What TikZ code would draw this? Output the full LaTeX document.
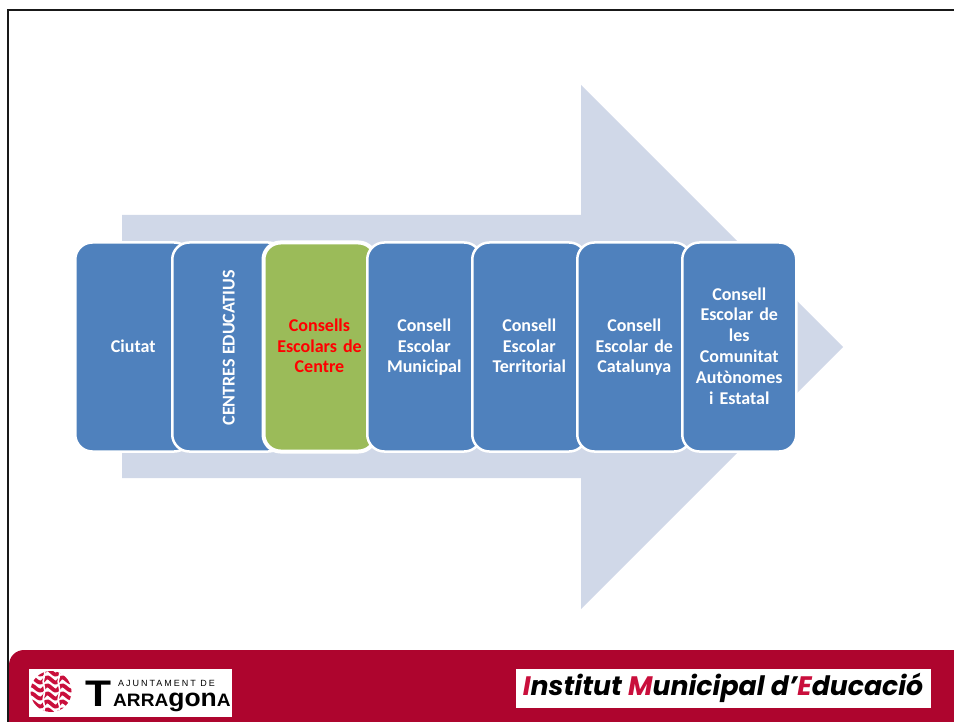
\documentclass[tikz,border=0pt]{standalone}
\usepackage{fontspec}
\setmainfont{Carlito}
\newfontfamily\logofont{Liberation Sans}
\newfontfamily\logospaced[LetterSpace=22]{Liberation Sans}
\newfontfamily\instfont{Poppins}
\usepackage{tikz}
\usetikzlibrary{positioning}
\definecolor{BoxBlue}{HTML}{4F81BD}
\definecolor{BoxGreen}{HTML}{9BBB59}
\definecolor{ArrowGray}{HTML}{D0D8E8}
\definecolor{FootRed}{HTML}{AE052E}
\definecolor{LogoRed}{HTML}{C90F3C}
\tikzset{
  % Box styles
  levelbox/.style={rectangle, rounded corners=17pt, draw=white, line width=2.5pt, fill=BoxBlue, text=white, minimum height=209pt, font=\fontsize{18}{20.8}\selectfont\bfseries, align=center, inner sep=1pt, anchor=west, execute at begin node={\rule{0pt}{16.6pt}}, execute at end node=\strut},
  greenbox/.style={levelbox, fill=BoxGreen, text=red, line width=4pt},
  % Logo styles
  logobox/.style={rectangle, fill=white, inner sep=0pt, anchor=north west},
  wavy/.style={LogoRed, line width=3.8pt},
  wavycut/.style={white, line width=1.6pt}
}
\begin{document}
\begin{tikzpicture}[x=1pt, y=-1pt]
  \useasboundingbox (0,0) rectangle (954,722);

  % Frame
  \draw[line width=2.5pt, black!90] (8,722) -- (8,10) -- (954,10);

  % Big arrow
  \fill[ArrowGray] (122,215) -- (581,215) -- (581,85) -- (843,347) -- (581,609) -- (581,478) -- (122,478) -- cycle;

  % Levels
  \node[levelbox, text width=114pt] (ciutat) at (74,347) {Ciutat};
  \node[levelbox, minimum width=113pt, execute at begin node=, execute at end node=] (centres) at (171,347) {\rule{0pt}{163pt}\rotatebox{90}{CENTRES EDUCATIUS}};
  \node[greenbox, text width=110pt] (consells) at (261.5,347) {Consells\\Escolars de\\Centre};
  \node[levelbox, text width=112pt] (municipal) at (366,347) {Consell\\Escolar\\Municipal};
  \node[levelbox, text width=112pt] (territorial) at (471,347) {Consell\\Escolar\\Territorial};
  \node[levelbox, text width=112pt] (catalunya) at (576,347) {Consell\\Escolar de\\Catalunya};
  \node[levelbox, text width=112pt] (estatal) at (681,347) {Consell\\Escolar de\\les\\Comunitat\\Autònomes\\i Estatal};

  % Footer
  \fill[FootRed] (9,722) -- (9,665) arc[start angle=180, end angle=90, x radius=15, y radius=-15] -- (954,650) -- (954,722) -- cycle;

  % Tarragona logo
  \node[logobox, minimum width=203pt, minimum height=48pt] (ajuntament) at (29,669) {};
  \begin{scope}
    \clip (51,691.5) circle[radius=20.5];
    \foreach \row in {672,680,688,696,704,712}
      \draw[wavy] (28,\row) .. controls (33,\row-9) and (38,\row+9) .. (44,\row) .. controls (49,\row-9) and (54,\row+9) .. (59,\row) .. controls (64,\row-9) and (69,\row+9) .. (75,\row);
    \foreach \col in {44,59}
      \draw[wavycut] (\col,669) .. controls (\col+3,675) and (\col-3,680) .. (\col,686) .. controls (\col+3,692) and (\col-3,698) .. (\col,704) .. controls (\col+3,708) and (\col-3,712) .. (\col,716);
  \end{scope}
  \node[font=\logospaced\fontsize{9}{10}\selectfont, anchor=base west, inner sep=0pt] (ajtext) at (118,686.5) {AJUNTAMENT DE};
  \node[font=\logofont\bfseries\fontsize{37}{37}\selectfont, anchor=base west, inner sep=0pt] (bigt) at (85,706) {\scalebox{1.15}[1]{T}};
  \node[font=\logofont\bfseries\fontsize{18}{18}\selectfont, anchor=base west, inner sep=0pt] (tarragona) at (113,706) {\scalebox{1.06}[1]{ARRA{\fontsize{25}{25}\selectfont gon}A}};

  % Institut logo
  \node[logobox, minimum width=415pt, minimum height=39pt] (institut) at (516,669) {};
  \node[font=\instfont\fontsize{26.7}{27}\selectfont\bfseries\itshape, anchor=center, inner sep=0pt] (insttext) at (723,688) {\textcolor{LogoRed}{I}nstitut \textcolor{LogoRed}{M}unicipal d’\textcolor{LogoRed}{E}ducació};
\end{tikzpicture}
\end{document}
